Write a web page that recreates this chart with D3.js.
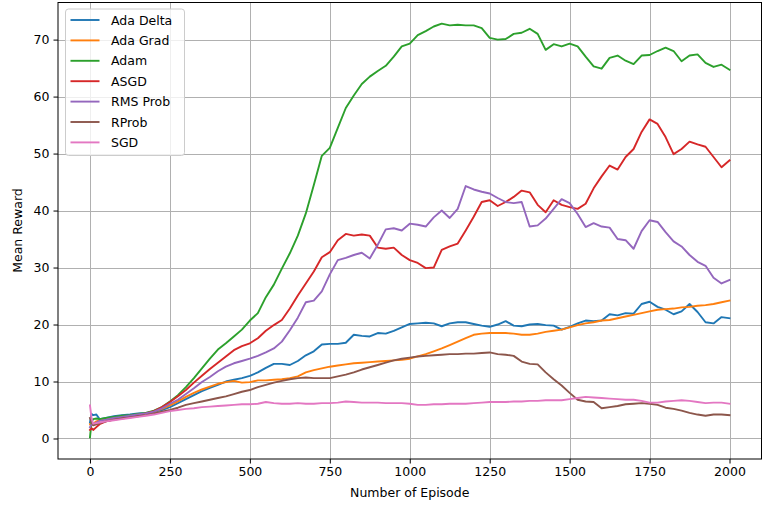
<!DOCTYPE html>
<html>
<head>
<meta charset="utf-8">
<script src="https://cdn.jsdelivr.net/npm/d3@7"></script>
<style>
  html, body { margin: 0; padding: 0; background: #fff; }
  svg { display: block; font-family: "DejaVu Sans", sans-serif; }
</style>
</head>
<body>
<svg id="chart" width="762" height="506"></svg>
<script>
// Episode sample points shared by every optimizer curve
const episodes = [
  0, 5, 10, 20, 30, 50, 75,
  100, 125, 150, 175,
  200, 225, 250, 275,
  300, 325, 350, 375,
  400, 425, 450, 475,
  500, 525, 550, 575,
  600, 625, 650, 675,
  700, 725, 750, 775,
  800, 825, 850, 875,
  900, 925, 950, 975,
  1000, 1025, 1050, 1075,
  1100, 1125, 1150, 1175,
  1200, 1225, 1250, 1275,
  1300, 1325, 1350, 1375,
  1400, 1425, 1450, 1475,
  1500, 1525, 1550, 1575,
  1600, 1625, 1650, 1675,
  1700, 1725, 1750, 1775,
  1800, 1825, 1850, 1875,
  1900, 1925, 1950, 1975,
  2000
];

const seriesNames = ["Ada Delta", "Ada Grad", "Adam", "ASGD", "RMS Prob", "RProb", "SGD"];

const adaDelta = [
  2.8, 4.3, 4.1, 4.2, 3.4, 3.6, 3.9,
  4.1, 4.2, 4.4, 4.5,
  4.7, 5.0, 5.5, 6.2,
  6.9, 7.6, 8.3, 8.9,
  9.4, 10.0, 10.3, 10.6,
  11.0, 11.6, 12.4, 13.1,
  13.1, 12.9, 13.6, 14.6,
  15.3, 16.5, 16.6, 16.6,
  16.8, 18.2, 18.0, 17.9,
  18.5, 18.4, 18.9, 19.5,
  20.1, 20.2, 20.3, 20.2,
  19.7, 20.2, 20.4, 20.4,
  20.1, 19.8, 19.6, 20.0,
  20.6, 19.8, 19.7, 20.0,
  20.1, 19.9, 19.8, 19.1,
  19.6, 20.2, 20.7, 20.6,
  20.7, 21.8, 21.6, 22.0,
  21.9, 23.6, 24.0, 23.1,
  22.6, 21.8, 22.3, 23.6,
  22.2, 20.4, 20.2, 21.3,
  21.1
];

const adaGrad = [
  2.5, 2.6, 2.6, 3.0, 3.2, 3.4, 3.6,
  3.8, 4.0, 4.2, 4.4,
  4.7, 5.2, 5.8, 6.5,
  7.3, 8.0, 8.6, 9.1,
  9.6, 9.9, 10.1, 9.8,
  9.9, 10.2, 10.2, 10.3,
  10.4, 10.6, 10.9, 11.6,
  12.0, 12.3, 12.6, 12.8,
  13.0, 13.2, 13.3, 13.4,
  13.5, 13.6, 13.7, 13.8,
  14.0, 14.4, 14.8, 15.3,
  15.8, 16.4, 17.0, 17.6,
  18.2, 18.4, 18.5, 18.5,
  18.5, 18.4, 18.2, 18.2,
  18.4, 18.7, 18.9, 19.1,
  19.5, 19.9, 20.2, 20.4,
  20.7, 20.8, 21.1, 21.4,
  21.7, 22.0, 22.3, 22.6,
  22.7, 22.8, 23.0, 23.1,
  23.3, 23.4, 23.6, 23.9,
  24.2
];

const adam = [
  0.2, 3.0, 3.4, 3.5, 3.4, 3.6, 3.8,
  4.0, 4.1, 4.3, 4.5,
  4.9, 5.5, 6.5, 7.6,
  9.0, 10.6, 12.3, 14.0,
  15.6, 16.7, 17.9, 19.1,
  20.7, 22.0, 24.8, 27.0,
  29.8, 32.5, 35.6, 39.5,
  44.5, 49.6, 51.0, 54.5,
  58.0, 60.2, 62.2, 63.5,
  64.5, 65.4, 67.0, 68.8,
  69.3, 70.8, 71.5, 72.3,
  72.8, 72.5, 72.6, 72.5,
  72.5, 72.0, 70.3, 70.0,
  70.1, 71.0, 71.2, 71.9,
  71.0, 68.2, 69.2, 68.8,
  69.3, 68.8, 67.0, 65.3,
  64.9, 66.8, 67.2, 66.3,
  65.7, 67.2, 67.3, 68.0,
  68.6, 68.0, 66.2, 67.2,
  67.4, 65.9, 65.2, 65.6,
  64.7
];

const asgd = [
  1.5, 1.8, 1.5, 2.0, 2.5, 3.0, 3.3,
  3.6, 3.8, 4.1, 4.4,
  4.8, 5.5, 6.4, 7.4,
  8.5, 9.8, 11.0, 12.2,
  13.3, 14.4, 15.5, 16.2,
  16.7, 17.6, 18.9, 19.9,
  20.8, 22.8, 25.1, 27.2,
  29.3, 31.8, 32.7, 34.8,
  35.9, 35.6, 35.8, 35.6,
  33.5, 33.3, 33.5, 32.2,
  31.3, 30.8, 29.9, 30.0,
  33.1, 33.7, 34.2, 36.5,
  38.9, 41.5, 41.8, 40.8,
  41.5, 42.4, 43.5, 43.2,
  41.0, 39.7, 41.8, 41.0,
  40.6, 40.3, 41.2, 43.9,
  46.0, 47.9, 47.2, 49.4,
  50.8, 53.8, 56.0, 55.2,
  52.9, 49.9, 50.8, 52.1,
  51.6, 51.2, 49.4, 47.6,
  48.8
];

const rmsProb = [
  2.0, 2.5, 2.4, 2.8, 3.1, 3.3, 3.6,
  3.8, 4.0, 4.2, 4.4,
  4.7, 5.3, 6.1, 6.8,
  7.8, 8.8, 9.9, 10.8,
  11.8, 12.6, 13.2, 13.6,
  14.0, 14.5, 15.1, 15.8,
  17.0, 19.0, 21.2, 23.9,
  24.2, 25.8, 28.8, 31.3,
  31.7, 32.2, 32.6, 31.6,
  34.0, 36.7, 36.9, 36.5,
  37.7, 37.5, 37.2, 38.8,
  40.0, 38.7, 40.3, 44.3,
  43.7, 43.3, 43.0, 42.2,
  41.5, 41.3, 41.5, 37.2,
  37.4, 38.6, 40.3, 42.0,
  41.3, 39.4, 37.1, 37.8,
  37.2, 37.0, 35.0, 34.8,
  33.3, 36.4, 38.3, 38.0,
  36.2, 34.6, 33.7, 32.2,
  31.0, 30.3, 28.2, 27.2,
  27.8
];

const rProb = [
  3.6, 2.8, 2.3, 2.5, 2.7, 3.0, 3.3,
  3.5, 3.7, 3.9, 4.1,
  4.4, 4.7, 5.0, 5.4,
  5.9, 6.2, 6.5, 6.8,
  7.1, 7.4, 7.8, 8.2,
  8.5, 9.0, 9.4, 9.8,
  10.1, 10.4, 10.6, 10.7,
  10.6, 10.6, 10.6, 10.9,
  11.2, 11.6, 12.1, 12.5,
  12.9, 13.3, 13.7, 14.0,
  14.2, 14.4, 14.5, 14.6,
  14.7, 14.8, 14.8, 14.9,
  14.9, 15.0, 15.1, 14.8,
  14.7, 14.5, 13.5, 13.1,
  13.0, 11.6, 10.4, 9.3,
  8.0, 6.8, 6.5, 6.4,
  5.3, 5.5, 5.7, 6.0,
  6.1, 6.2, 6.1, 5.9,
  5.4, 5.2, 4.9, 4.5,
  4.2, 4.0, 4.2, 4.2,
  4.1
];

const sgd = [
  5.8, 3.5, 2.6, 2.7, 2.8, 3.0, 3.2,
  3.4, 3.6, 3.8, 4.0,
  4.2, 4.5, 4.8, 5.0,
  5.2, 5.3, 5.5, 5.6,
  5.7, 5.8, 5.9, 6.0,
  6.0, 6.1, 6.4, 6.2,
  6.1, 6.1, 6.2, 6.1,
  6.1, 6.2, 6.2, 6.3,
  6.5, 6.4, 6.3, 6.3,
  6.3, 6.2, 6.2, 6.2,
  6.1, 5.9, 5.9, 6.0,
  6.0, 6.1, 6.1, 6.1,
  6.2, 6.3, 6.4, 6.4,
  6.4, 6.5, 6.5, 6.6,
  6.6, 6.7, 6.7, 6.7,
  6.9, 7.1, 7.3, 7.2,
  7.1, 7.0, 6.9, 6.8,
  6.8, 6.6, 6.3, 6.3,
  6.5, 6.6, 6.7, 6.6,
  6.4, 6.2, 6.3, 6.3,
  6.1
];

const seriesColors = ["#1f77b4", "#ff7f0e", "#2ca02c", "#d62728", "#9467bd", "#8c564b", "#e377c2"];
const xTicks = [0, 250, 500, 750, 1000, 1250, 1500, 1750, 2000];
const yTicks = [0, 10, 20, 30, 40, 50, 60, 70];

const seriesValues = [adaDelta, adaGrad, adam, asgd, rmsProb, rProb, sgd];
const series = seriesNames.map((name, i) => ({
  name,
  color: seriesColors[i],
  points: episodes.map((ep, j) => [ep, seriesValues[i][j]])
}));

const svg = d3.select("#chart");
const plot = { left: 58, right: 761.5, top: 2, bottom: 459 };
const fontSize = 12.5;

const x = d3.scaleLinear().domain([-100, 2100]).range([plot.left, plot.right]);
const y = d3.scaleLinear().domain([-3.6, 76.6]).range([plot.bottom, plot.top]);

// grid
const grid = svg.append("g").attr("stroke", "#b0b0b0").attr("stroke-width", 1);
grid.selectAll("line.vx").data(xTicks).join("line")
  .attr("x1", d => Math.round(x(d)) + 0.5).attr("x2", d => Math.round(x(d)) + 0.5)
  .attr("y1", plot.top).attr("y2", plot.bottom);
grid.selectAll("line.hy").data(yTicks).join("line")
  .attr("y1", d => Math.round(y(d)) + 0.5).attr("y2", d => Math.round(y(d)) + 0.5)
  .attr("x1", plot.left).attr("x2", plot.right);

// curves
const line = d3.line().x(d => x(d[0])).y(d => y(d[1]));
svg.append("clipPath").attr("id", "plotclip").append("rect")
  .attr("x", plot.left).attr("y", plot.top)
  .attr("width", plot.right - plot.left).attr("height", plot.bottom - plot.top);
svg.append("g").attr("clip-path", "url(#plotclip)")
  .selectAll("path").data(series).join("path")
  .attr("fill", "none")
  .attr("stroke", d => d.color)
  .attr("stroke-width", 1.9)
  .attr("stroke-linejoin", "round")
  .attr("stroke-linecap", "square")
  .attr("d", d => line(d.points));

// axes
const xAxis = d3.axisBottom(x).tickValues(xTicks).tickFormat(d3.format("d"))
  .tickSize(4.5).tickPadding(4).tickSizeOuter(0);
const yAxis = d3.axisLeft(y).tickValues(yTicks).tickFormat(d3.format("d"))
  .tickSize(4.5).tickPadding(4).tickSizeOuter(0);

const gx = svg.append("g").attr("transform", `translate(0,${plot.bottom})`).call(xAxis);
const gy = svg.append("g").attr("transform", `translate(${plot.left},0)`).call(yAxis);
[gx, gy].forEach(g => {
  g.select(".domain").remove();
  g.selectAll(".tick line").attr("stroke", "#000").attr("stroke-width", 1);
  g.selectAll(".tick text").attr("fill", "#000")
    .style("font-size", fontSize + "px").style("font-family", "DejaVu Sans, sans-serif");
});

// frame
svg.append("rect")
  .attr("x", plot.left).attr("y", plot.top + 0.5)
  .attr("width", plot.right - plot.left).attr("height", plot.bottom - plot.top - 0.5)
  .attr("fill", "none").attr("stroke", "#000").attr("stroke-width", 1);

// axis titles
svg.append("text")
  .attr("x", (plot.left + plot.right) / 2).attr("y", 497)
  .attr("text-anchor", "middle").style("font-size", fontSize + "px")
  .text("Number of Episode");
svg.append("text")
  .attr("transform", `translate(22,${(plot.top + plot.bottom) / 2}) rotate(-90)`)
  .attr("text-anchor", "middle").style("font-size", fontSize + "px")
  .text("Mean Reward");

// legend
const legend = svg.append("g").attr("transform", "translate(65.5,9)");
legend.append("rect")
  .attr("width", 119).attr("height", 146.5).attr("rx", 3)
  .attr("fill", "#fff").attr("fill-opacity", 0.8)
  .attr("stroke", "#cccccc").attr("stroke-width", 1);
const rows = legend.selectAll("g.row").data(series).join("g")
  .attr("transform", (d, i) => `translate(0,${11 + i * 20.4})`);
rows.append("line")
  .attr("x1", 5).attr("x2", 34).attr("y1", 0).attr("y2", 0)
  .attr("stroke", d => d.color).attr("stroke-width", 1.9);
rows.append("text")
  .attr("x", 45.5).attr("y", 4.5)
  .style("font-size", fontSize + "px")
  .text(d => d.name);
</script>
</body>
</html>
